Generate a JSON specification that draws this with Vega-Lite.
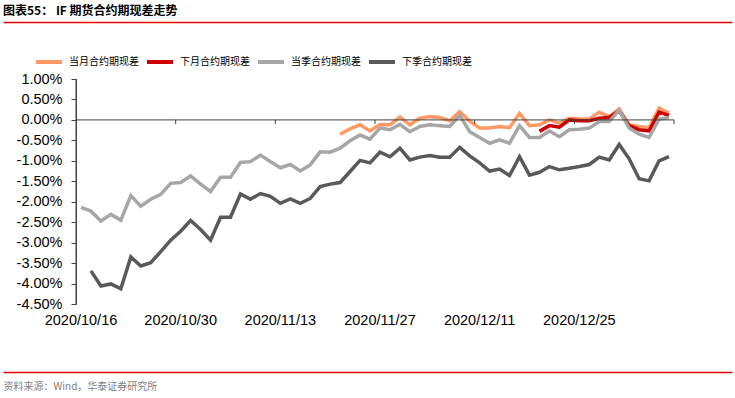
{
  "$schema": "https://vega.github.io/schema/vega-lite/v6.json",
  "width": 729,
  "height": 225,
  "autosize": "none",
  "padding": {"left": 3, "right": 3, "top": 79, "bottom": 94},
  "background": "white",
  "title": {"text": "图表55： IF 期货合约期现差走势", "anchor": "start", "font": "Noto Sans CJK SC", "fontSize": 12, "fontWeight": "bold", "color": "#000000", "offset": 4},
  "config": {"view": {"stroke": null}, "axis": {"grid": false}},
  "resolve": {"scale": {"x": "independent"}, "axis": {"x": "independent"}},
  "layer": [
    {
      "layer": [
        {
          "data": {"values": [
            {"d":"2020/11/23","s":"当月合约期现差","v":-0.35},
            {"d":"2020/11/24","s":"当月合约期现差","v":-0.22},
            {"d":"2020/11/25","s":"当月合约期现差","v":-0.12},
            {"d":"2020/11/26","s":"当月合约期现差","v":-0.27},
            {"d":"2020/11/27","s":"当月合约期现差","v":-0.11},
            {"d":"2020/11/30","s":"当月合约期现差","v":-0.12},
            {"d":"2020/12/01","s":"当月合约期现差","v":0.07},
            {"d":"2020/12/02","s":"当月合约期现差","v":-0.12},
            {"d":"2020/12/03","s":"当月合约期现差","v":0.04},
            {"d":"2020/12/04","s":"当月合约期现差","v":0.08},
            {"d":"2020/12/07","s":"当月合约期现差","v":0.06},
            {"d":"2020/12/08","s":"当月合约期现差","v":-0.02},
            {"d":"2020/12/09","s":"当月合约期现差","v":0.20},
            {"d":"2020/12/10","s":"当月合约期现差","v":-0.03},
            {"d":"2020/12/11","s":"当月合约期现差","v":-0.20},
            {"d":"2020/12/14","s":"当月合约期现差","v":-0.20},
            {"d":"2020/12/15","s":"当月合约期现差","v":-0.16},
            {"d":"2020/12/16","s":"当月合约期现差","v":-0.19},
            {"d":"2020/12/17","s":"当月合约期现差","v":0.16},
            {"d":"2020/12/18","s":"当月合约期现差","v":-0.14},
            {"d":"2020/12/21","s":"当月合约期现差","v":-0.12},
            {"d":"2020/12/22","s":"当月合约期现差","v":0.00},
            {"d":"2020/12/23","s":"当月合约期现差","v":-0.08},
            {"d":"2020/12/24","s":"当月合约期现差","v":0.04},
            {"d":"2020/12/25","s":"当月合约期现差","v":0.02},
            {"d":"2020/12/28","s":"当月合约期现差","v":0.02},
            {"d":"2020/12/29","s":"当月合约期现差","v":0.19},
            {"d":"2020/12/30","s":"当月合约期现差","v":0.08},
            {"d":"2020/12/31","s":"当月合约期现差","v":0.27},
            {"d":"2021/01/04","s":"当月合约期现差","v":-0.12},
            {"d":"2021/01/05","s":"当月合约期现差","v":-0.16},
            {"d":"2021/01/06","s":"当月合约期现差","v":-0.19},
            {"d":"2021/01/07","s":"当月合约期现差","v":0.29},
            {"d":"2021/01/08","s":"当月合约期现差","v":0.17},

            {"d":"2020/12/21","s":"下月合约期现差","v":-0.28},
            {"d":"2020/12/22","s":"下月合约期现差","v":-0.14},
            {"d":"2020/12/23","s":"下月合约期现差","v":-0.18},
            {"d":"2020/12/24","s":"下月合约期现差","v":0.00},
            {"d":"2020/12/25","s":"下月合约期现差","v":-0.02},
            {"d":"2020/12/28","s":"下月合约期现差","v":-0.02},
            {"d":"2020/12/29","s":"下月合约期现差","v":0.04},
            {"d":"2020/12/30","s":"下月合约期现差","v":0.06},
            {"d":"2020/12/31","s":"下月合约期现差","v":0.22},
            {"d":"2021/01/04","s":"下月合约期现差","v":-0.14},
            {"d":"2021/01/05","s":"下月合约期现差","v":-0.24},
            {"d":"2021/01/06","s":"下月合约期现差","v":-0.27},
            {"d":"2021/01/07","s":"下月合约期现差","v":0.19},
            {"d":"2021/01/08","s":"下月合约期现差","v":0.11},

            {"d":"2020/10/16","s":"当季合约期现差","v":-2.14},
            {"d":"2020/10/19","s":"当季合约期现差","v":-2.23},
            {"d":"2020/10/20","s":"当季合约期现差","v":-2.47},
            {"d":"2020/10/21","s":"当季合约期现差","v":-2.31},
            {"d":"2020/10/22","s":"当季合约期现差","v":-2.45},
            {"d":"2020/10/23","s":"当季合约期现差","v":-1.85},
            {"d":"2020/10/26","s":"当季合约期现差","v":-2.11},
            {"d":"2020/10/27","s":"当季合约期现差","v":-1.94},
            {"d":"2020/10/28","s":"当季合约期现差","v":-1.82},
            {"d":"2020/10/29","s":"当季合约期现差","v":-1.55},
            {"d":"2020/10/30","s":"当季合约期现差","v":-1.53},
            {"d":"2020/11/02","s":"当季合约期现差","v":-1.37},
            {"d":"2020/11/03","s":"当季合约期现差","v":-1.57},
            {"d":"2020/11/04","s":"当季合约期现差","v":-1.75},
            {"d":"2020/11/05","s":"当季合约期现差","v":-1.40},
            {"d":"2020/11/06","s":"当季合约期现差","v":-1.40},
            {"d":"2020/11/09","s":"当季合约期现差","v":-1.04},
            {"d":"2020/11/10","s":"当季合约期现差","v":-1.02},
            {"d":"2020/11/11","s":"当季合约期现差","v":-0.86},
            {"d":"2020/11/12","s":"当季合约期现差","v":-1.02},
            {"d":"2020/11/13","s":"当季合约期现差","v":-1.17},
            {"d":"2020/11/16","s":"当季合约期现差","v":-1.09},
            {"d":"2020/11/17","s":"当季合约期现差","v":-1.25},
            {"d":"2020/11/18","s":"当季合约期现差","v":-1.10},
            {"d":"2020/11/19","s":"当季合约期现差","v":-0.78},
            {"d":"2020/11/20","s":"当季合约期现差","v":-0.79},
            {"d":"2020/11/23","s":"当季合约期现差","v":-0.69},
            {"d":"2020/11/24","s":"当季合约期现差","v":-0.51},
            {"d":"2020/11/25","s":"当季合约期现差","v":-0.37},
            {"d":"2020/11/26","s":"当季合约期现差","v":-0.47},
            {"d":"2020/11/27","s":"当季合约期现差","v":-0.20},
            {"d":"2020/11/30","s":"当季合约期现差","v":-0.24},
            {"d":"2020/12/01","s":"当季合约期现差","v":-0.11},
            {"d":"2020/12/02","s":"当季合约期现差","v":-0.29},
            {"d":"2020/12/03","s":"当季合约期现差","v":-0.16},
            {"d":"2020/12/04","s":"当季合约期现差","v":-0.12},
            {"d":"2020/12/07","s":"当季合约期现差","v":-0.14},
            {"d":"2020/12/08","s":"当季合约期现差","v":-0.16},
            {"d":"2020/12/09","s":"当季合约期现差","v":0.11},
            {"d":"2020/12/10","s":"当季合约期现差","v":-0.29},
            {"d":"2020/12/11","s":"当季合约期现差","v":-0.43},
            {"d":"2020/12/14","s":"当季合约期现差","v":-0.57},
            {"d":"2020/12/15","s":"当季合约期现差","v":-0.49},
            {"d":"2020/12/16","s":"当季合约期现差","v":-0.57},
            {"d":"2020/12/17","s":"当季合约期现差","v":-0.14},
            {"d":"2020/12/18","s":"当季合约期现差","v":-0.43},
            {"d":"2020/12/21","s":"当季合约期现差","v":-0.43},
            {"d":"2020/12/22","s":"当季合约期现差","v":-0.27},
            {"d":"2020/12/23","s":"当季合约期现差","v":-0.41},
            {"d":"2020/12/24","s":"当季合约期现差","v":-0.24},
            {"d":"2020/12/25","s":"当季合约期现差","v":-0.23},
            {"d":"2020/12/28","s":"当季合约期现差","v":-0.20},
            {"d":"2020/12/29","s":"当季合约期现差","v":-0.04},
            {"d":"2020/12/30","s":"当季合约期现差","v":-0.04},
            {"d":"2020/12/31","s":"当季合约期现差","v":0.24},
            {"d":"2021/01/04","s":"当季合约期现差","v":-0.20},
            {"d":"2021/01/05","s":"当季合约期现差","v":-0.35},
            {"d":"2021/01/06","s":"当季合约期现差","v":-0.43},
            {"d":"2021/01/07","s":"当季合约期现差","v":0.02},
            {"d":"2021/01/08","s":"当季合约期现差","v":0.06},

            {"d":"2020/10/19","s":"下季合约期现差","v":-3.69},
            {"d":"2020/10/20","s":"下季合约期现差","v":-4.06},
            {"d":"2020/10/21","s":"下季合约期现差","v":-4.01},
            {"d":"2020/10/22","s":"下季合约期现差","v":-4.13},
            {"d":"2020/10/23","s":"下季合约期现差","v":-3.35},
            {"d":"2020/10/26","s":"下季合约期现差","v":-3.57},
            {"d":"2020/10/27","s":"下季合约期现差","v":-3.49},
            {"d":"2020/10/28","s":"下季合约期现差","v":-3.22},
            {"d":"2020/10/29","s":"下季合约期现差","v":-2.94},
            {"d":"2020/10/30","s":"下季合约期现差","v":-2.72},
            {"d":"2020/11/02","s":"下季合约期现差","v":-2.46},
            {"d":"2020/11/03","s":"下季合约期现差","v":-2.68},
            {"d":"2020/11/04","s":"下季合约期现差","v":-2.94},
            {"d":"2020/11/05","s":"下季合约期现差","v":-2.38},
            {"d":"2020/11/06","s":"下季合约期现差","v":-2.38},
            {"d":"2020/11/09","s":"下季合约期现差","v":-1.81},
            {"d":"2020/11/10","s":"下季合约期现差","v":-1.94},
            {"d":"2020/11/11","s":"下季合约期现差","v":-1.80},
            {"d":"2020/11/12","s":"下季合约期现差","v":-1.87},
            {"d":"2020/11/13","s":"下季合约期现差","v":-2.04},
            {"d":"2020/11/16","s":"下季合约期现差","v":-1.93},
            {"d":"2020/11/17","s":"下季合约期现差","v":-2.04},
            {"d":"2020/11/18","s":"下季合约期现差","v":-1.92},
            {"d":"2020/11/19","s":"下季合约期现差","v":-1.63},
            {"d":"2020/11/20","s":"下季合约期现差","v":-1.57},
            {"d":"2020/11/23","s":"下季合约期现差","v":-1.53},
            {"d":"2020/11/24","s":"下季合约期现差","v":-1.26},
            {"d":"2020/11/25","s":"下季合约期现差","v":-0.99},
            {"d":"2020/11/26","s":"下季合约期现差","v":-1.05},
            {"d":"2020/11/27","s":"下季合约期现差","v":-0.79},
            {"d":"2020/11/30","s":"下季合约期现差","v":-0.90},
            {"d":"2020/12/01","s":"下季合约期现差","v":-0.69},
            {"d":"2020/12/02","s":"下季合约期现差","v":-0.98},
            {"d":"2020/12/03","s":"下季合约期现差","v":-0.91},
            {"d":"2020/12/04","s":"下季合约期现差","v":-0.87},
            {"d":"2020/12/07","s":"下季合约期现差","v":-0.91},
            {"d":"2020/12/08","s":"下季合约期现差","v":-0.91},
            {"d":"2020/12/09","s":"下季合约期现差","v":-0.67},
            {"d":"2020/12/10","s":"下季合约期现差","v":-0.88},
            {"d":"2020/12/11","s":"下季合约期现差","v":-1.05},
            {"d":"2020/12/14","s":"下季合约期现差","v":-1.25},
            {"d":"2020/12/15","s":"下季合约期现差","v":-1.20},
            {"d":"2020/12/16","s":"下季合约期现差","v":-1.36},
            {"d":"2020/12/17","s":"下季合约期现差","v":-0.90},
            {"d":"2020/12/18","s":"下季合约期现差","v":-1.35},
            {"d":"2020/12/21","s":"下季合约期现差","v":-1.28},
            {"d":"2020/12/22","s":"下季合约期现差","v":-1.14},
            {"d":"2020/12/23","s":"下季合约期现差","v":-1.22},
            {"d":"2020/12/24","s":"下季合约期现差","v":-1.18},
            {"d":"2020/12/25","s":"下季合约期现差","v":-1.14},
            {"d":"2020/12/28","s":"下季合约期现差","v":-1.09},
            {"d":"2020/12/29","s":"下季合约期现差","v":-0.91},
            {"d":"2020/12/30","s":"下季合约期现差","v":-0.98},
            {"d":"2020/12/31","s":"下季合约期现差","v":-0.60},
            {"d":"2021/01/04","s":"下季合约期现差","v":-0.95},
            {"d":"2021/01/05","s":"下季合约期现差","v":-1.44},
            {"d":"2021/01/06","s":"下季合约期现差","v":-1.49},
            {"d":"2021/01/07","s":"下季合约期现差","v":-1.00},
            {"d":"2021/01/08","s":"下季合约期现差","v":-0.90}
          ]},
          "mark": {"type": "line", "strokeWidth": 3.5, "strokeJoin": "miter"},
          "encoding": {
            "x": {
              "field": "d", "type": "ordinal",
              "scale": {"type": "band", "paddingInner": 0, "paddingOuter": 0, "range": [73, 671]},
              "axis": {"orient": "bottom", "values": ["2020/10/16","2020/10/30","2020/11/13","2020/11/27","2020/12/11","2020/12/25"], "domain": false, "ticks": false, "tickSize": 0, "labelAngle": 0, "labelAlign": "center", "labelFont": "Liberation Sans", "labelFontSize": 14.5, "labelColor": "#000000", "labelPadding": 9, "labelOverlap": false, "title": null, "grid": false}
            },
            "y": {
              "field": "v", "type": "quantitative",
              "scale": {"domain": [-4.5, 1], "nice": false, "zero": false},
              "axis": {"orient": "left", "offset": -73, "values": [-4.5,-4,-3.5,-3,-2.5,-2,-1.5,-1,-0.5,0,0.5,1], "tickCount": 20, "labelExpr": "(datum.value < 0 ? '-' : '') + format(abs(datum.value)/100, '.2%')", "labelOverlap": false, "labelBound": false, "labelFlush": false, "domain": true, "ticks": true, "domainColor": "#404040", "domainWidth": 1, "tickColor": "#404040", "tickWidth": 1, "tickSize": 5, "labelPadding": 9, "labelFont": "Liberation Sans", "labelFontSize": 14.5, "labelColor": "#000000", "title": null, "grid": false}
            },
            "color": {
              "field": "s", "type": "nominal",
              "scale": {"domain": ["当月合约期现差","下月合约期现差","当季合约期现差","下季合约期现差"], "range": ["#FF9A66","#CC0000","#A6A6A6","#595959"]},
              "legend": {"orient": "none", "legendX": 31, "legendY": -32, "direction": "horizontal", "title": null, "symbolType": "stroke", "symbolSize": 676, "symbolStrokeWidth": 4, "labelFont": "Noto Sans CJK SC", "labelFontSize": 10, "labelColor": "#000000", "labelOffset": 5, "columnPadding": 0}
            }
          }
        },
        {
          "data": {"values": [{"a": "2020/10/16", "b": "2021/01/08"}]},
          "mark": {"type": "rule", "color": "#404040", "strokeWidth": 1},
          "encoding": {
            "x": {"field": "a", "type": "ordinal", "bandPosition": 0},
            "x2": {"field": "b", "bandPosition": 1},
            "y": {"datum": 0, "type": "quantitative"}
          }
        },
        {
          "data": {"values": [{"t": "2020/10/30"}, {"t": "2020/11/13"}, {"t": "2020/11/27"}, {"t": "2020/12/11"}, {"t": "2020/12/25"}]},
          "mark": {"type": "rule", "color": "#404040", "strokeWidth": 1},
          "encoding": {
            "x": {"field": "t", "type": "ordinal", "bandPosition": 0},
            "y": {"datum": 0, "type": "quantitative"},
            "y2": {"datum": -0.1}
          }
        },
        {
          "data": {"values": [{"t": "2021/01/08"}]},
          "mark": {"type": "rule", "color": "#404040", "strokeWidth": 1},
          "encoding": {
            "x": {"field": "t", "type": "ordinal", "bandPosition": 1},
            "y": {"datum": 0, "type": "quantitative"},
            "y2": {"datum": -0.1}
          }
        },
        {
          "data": {"values": [{"a": "2020/10/16"}]},
          "mark": {"type": "rule", "color": "#404040", "strokeWidth": 1},
          "encoding": {
            "x": {"field": "a", "type": "ordinal", "bandPosition": 0},
            "y": {"datum": -4.5, "type": "quantitative"},
            "y2": {"datum": 1}
          }
        }
      ]
    },
    {
      "data": {"values": [{"p": 0}]},
      "mark": {"type": "rule", "opacity": 0},
      "encoding": {
        "x": {"field": "p", "type": "quantitative", "scale": {"domain": [0, 1]}, "axis": {"orient": "top", "offset": 57, "domainColor": "#E60000", "domainWidth": 1.5, "labels": false, "ticks": false, "title": null, "grid": false}}
      }
    },
    {
      "data": {"values": [{"q": 0}]},
      "mark": {"type": "rule", "opacity": 0},
      "encoding": {
        "x": {"field": "q", "type": "quantitative", "scale": {"domain": [0, 1]}, "axis": {"orient": "bottom", "offset": 68, "domainColor": "#E60000", "domainWidth": 1.5, "labels": false, "ticks": false, "grid": false, "title": "资料来源：Wind，华泰证券研究所", "titleAnchor": "start", "titleAlign": "left", "titleX": 0, "titleY": 9, "titleBaseline": "top", "titleFont": "Noto Sans CJK SC", "titleFontSize": 10, "titleFontWeight": "normal", "titleColor": "#7f7f7f"}}
      }
    }
  ]
}
